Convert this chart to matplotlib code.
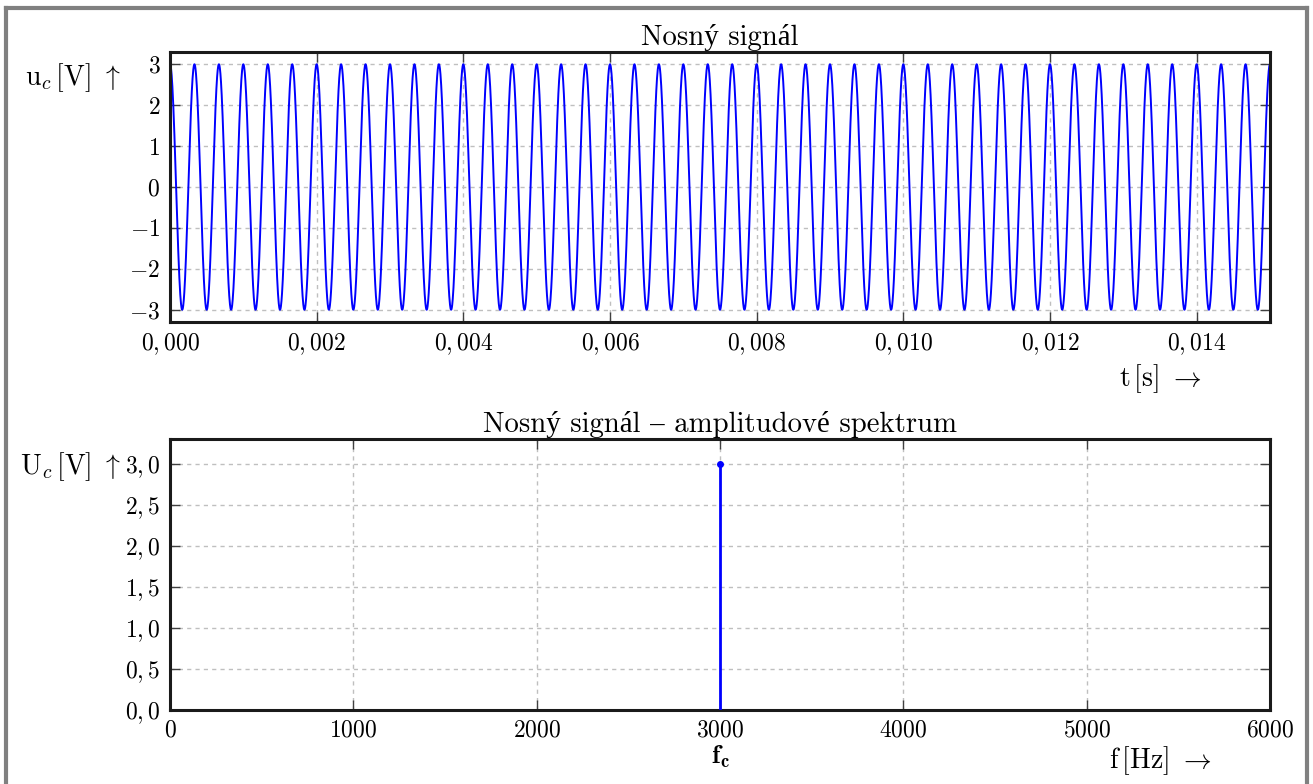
import numpy as np
import matplotlib
matplotlib.use("Agg")
import matplotlib.pyplot as plt
from matplotlib.ticker import FuncFormatter, FixedLocator
from matplotlib.lines import Line2D

# ---- data ----
carrier_amplitude = 3.0      # V
carrier_frequency = 3000.0   # Hz
t_end = 0.015                # s
t_ticks = [0.000, 0.002, 0.004, 0.006, 0.008, 0.010, 0.012, 0.014]
u_ticks = [-3, -2, -1, 0, 1, 2, 3]
spec_freqs = [3000.0]
spec_amps = [3.0]
f_ticks = [0, 1000, 2000, 3000, 4000, 5000, 6000]
U_ticks = [0.0, 0.5, 1.0, 1.5, 2.0, 2.5, 3.0]

t = np.linspace(0, t_end, 6000)
u = carrier_amplitude * np.cos(2 * np.pi * carrier_frequency * t)

plt.rcParams['font.family'] = ['cmr10', 'Liberation Serif']
plt.rcParams['mathtext.fontset'] = 'cm'
plt.rcParams['axes.unicode_minus'] = False

W, H = 1313, 784
fig = plt.figure(figsize=(W / 100, H / 100), dpi=100)

def box(l, t_, r, b):
    return [l / W, 1 - b / H, (r - l) / W, (b - t_) / H]

ax1 = fig.add_axes(box(170, 52, 1270, 322))
ax2 = fig.add_axes(box(170, 439, 1270, 710))

TICK_FS = 17
grid_kw = dict(color='0.75', linestyle=(0, (3, 3)), linewidth=1.0)

def comma_fmt(decimals):
    def f(v, pos):
        s = f"{v:.{decimals}f}".replace('.', ',')
        return f"${s}$"
    return FuncFormatter(f)

for ax in (ax1, ax2):
    for sp in ax.spines.values():
        sp.set_linewidth(2.2)
        sp.set_color('0.1')
    ax.tick_params(direction='in', top=True, right=True, length=7, width=1,
                   color='0.25', labelsize=TICK_FS, pad=7)
    ax.grid(True, **grid_kw)
    ax.set_axisbelow(True)

LABEL_FS = 20

# top: carrier signal
ax1.plot(t, u, color='#0000ff', linewidth=1.4)
ax1.set_xlim(0, t_end)
ax1.set_ylim(-3.3, 3.3)
ax1.xaxis.set_major_locator(FixedLocator(t_ticks))
ax1.yaxis.set_major_locator(FixedLocator(u_ticks))
ax1.xaxis.set_major_formatter(comma_fmt(3))
ax1.yaxis.set_major_formatter(comma_fmt(0))
ax1.set_title('Nosný signál', fontsize=20.7, pad=5)
ax1.text(-0.045, 0.905, r'$\mathrm{u}_c\,[\mathrm{V}]\ \uparrow$', transform=ax1.transAxes,
         ha='right', va='center', fontsize=LABEL_FS)
ax1.text(0.9, -0.21, r'$\mathrm{t}\,[\mathrm{s}]\ \rightarrow$', transform=ax1.transAxes,
         ha='center', va='center', fontsize=LABEL_FS)

# bottom: amplitude spectrum
ax2.axhline(0, color='#0000ff', linewidth=2.0, zorder=2)
ax2.vlines(spec_freqs, 0, spec_amps, color='#0000ff', linewidth=2.0, zorder=3)
ax2.plot(spec_freqs, spec_amps, 'o', color='#0000ff', markersize=4, zorder=4)
ax2.set_xlim(0, 6000)
ax2.set_ylim(0, 3.3)
ax2.xaxis.set_major_locator(FixedLocator(f_ticks))
ax2.yaxis.set_major_locator(FixedLocator(U_ticks))
ax2.xaxis.set_major_formatter(FuncFormatter(lambda v, p: f"${int(v)}$"))
ax2.yaxis.set_major_formatter(comma_fmt(1))
ax2.set_title('Nosný signál – amplitudové spektrum', fontsize=20.7, pad=5)
ax2.text(-0.045, 0.897, r'$\mathrm{U}_c\,[\mathrm{V}]\ \uparrow$', transform=ax2.transAxes,
         ha='right', va='center', fontsize=LABEL_FS)
ax2.text(0.9, -0.185, r'$\mathrm{f}\,[\mathrm{Hz}]\ \rightarrow$', transform=ax2.transAxes,
         ha='center', va='center', fontsize=LABEL_FS)
ax2.text(spec_freqs[0], -0.172, r'$\mathbf{f_c}$', transform=ax2.get_xaxis_transform(),
         ha='center', va='center', fontsize=19)

# figure border (gray frame, cut at bottom)
for xs, ys in (([6 / W, 6 / W], [0, 1 - 8 / H]),
               ([6 / W, 1307 / W], [1 - 8 / H, 1 - 8 / H]),
               ([1307 / W, 1307 / W], [0, 1 - 8 / H])):
    fig.add_artist(Line2D(xs, ys, transform=fig.transFigure, color='#808080', linewidth=3))

fig.savefig('out.png', dpi=100)
